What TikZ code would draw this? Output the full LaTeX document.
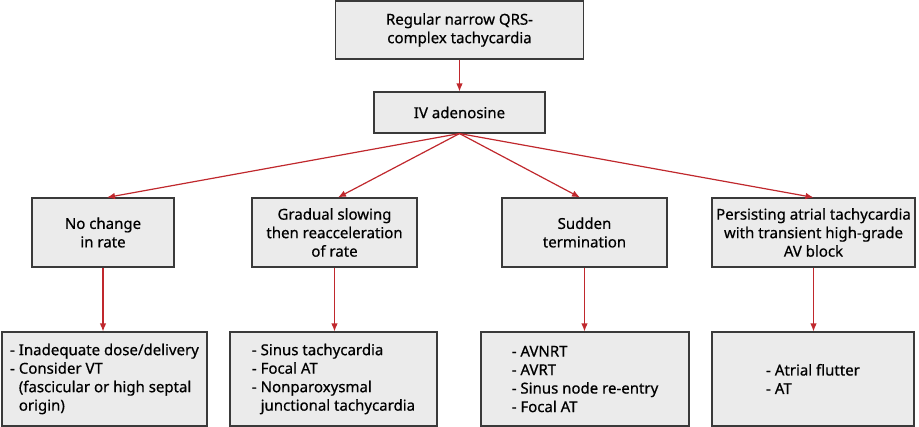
\documentclass[tikz,border=0pt]{standalone}
\usepackage{fontspec}
\setmainfont{Noto Sans}[FakeBold=0.6]
\usetikzlibrary{arrows.meta}
\definecolor{boxfill}{HTML}{EBEBEB}
\definecolor{boxline}{HTML}{3A3A3A}
\definecolor{arrred}{HTML}{C0282D}
\begin{document}
\begin{tikzpicture}[x=1pt,y=-1pt,
  box/.style={draw=boxline,fill=boxfill,line width=1.1pt,inner sep=0pt,
    font=\fontsize{15}{18.5}\selectfont,align=center},
  listbox/.style={box,align=left},
  arr/.style={draw=arrred,line width=1.2pt,-{Latex[length=8pt,width=6.5pt]}}]
\useasboundingbox (0,0) rectangle (919,427);
\node[box,minimum width=248pt,minimum height=58pt] (top) at (459.5,30) {Regular narrow QRS-\\complex tachycardia};
\node[box,minimum width=171pt,minimum height=41pt] (aden) at (459.5,112.5) {IV adenosine};
\node[box,minimum width=142pt,minimum height=69pt] (b1) at (103,232.5) {No change\\in rate};
\node[box,minimum width=165pt,minimum height=69pt] (b2) at (334.5,232.5) {Gradual slowing\\then reacceleration\\of rate};
\node[box,minimum width=165pt,minimum height=69pt] (b3) at (584.5,232.5) {Sudden\\termination};
\node[box,minimum width=203pt,minimum height=69pt] (b4) at (813.5,232.5) {Persisting atrial tachycardia\\with transient high-grade\\AV block};
\node[listbox,minimum width=205pt,minimum height=94pt] (r1) at (104.5,379) {- Inadequate dose/delivery\\- Consider VT\\\phantom{- }(fascicular or high septal\\\phantom{- }origin)};
\node[listbox,minimum width=207pt,minimum height=94pt] (r2) at (333.5,379) {- Sinus tachycardia\\- Focal AT\\- Nonparoxysmal\\\phantom{- }junctional tachycardia};
\node[listbox,minimum width=208pt,minimum height=94pt] (r3) at (585,379) {- AVNRT\\- AVRT\\- Sinus node re-entry\\- Focal AT};
\node[listbox,minimum width=202pt,minimum height=94pt] (r4) at (813,379) {- Atrial flutter\\- AT};
\draw[arr] (top.south) -- (aden.north);
\draw[arr] (aden.south) -- ([xshift=4pt]b1.north);
\draw[arr] (aden.south) -- ([xshift=3.5pt]b2.north);
\draw[arr] (aden.south) -- ([xshift=-4.5pt]b3.north);
\draw[arr] (aden.south) -- (b4.north);
\draw[arr] (b1.south) -- (b1.south |- r1.north);
\draw[arr] (b2.south) -- (b2.south |- r2.north);
\draw[arr] (b3.south) -- (b3.south |- r3.north);
\draw[arr] (b4.south) -- (b4.south |- r4.north);
\end{tikzpicture}
\end{document}
